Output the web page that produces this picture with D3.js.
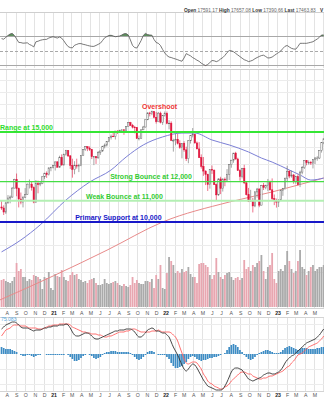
<!DOCTYPE html>
<html><head><meta charset="utf-8">
<script src="https://cdn.jsdelivr.net/npm/d3@7"></script>
<style>
html,body{margin:0;padding:0;background:#fff;}
svg{display:block;font-family:"Liberation Sans",Arial,sans-serif;}
</style></head><body>
<svg id="c" width="324" height="400"></svg>
<script>
// ---------- DATA ----------
const firstWeek = "2020-07-17";
const firstOpen = 10700;
const closes = [10650,10460,10900,11140,11190,11650,12110,11620,11090,10940,
11180,11330,11860,11860,11670,10940,11890,11830,11900,12260,
12460,12380,12760,12800,12890,13110,12800,13370,12930,13550,
13800,13470,12910,12670,12900,12870,12900,13480,13850,14040,
13950,13860,13420,13430,13350,13690,13770,14070,14140,14360,
14640,14720,14700,15060,14960,15120,15150,15100,15370,15650,
15450,15330,15310,14570,14580,15150,15340,15850,16340,16290,
16450,16030,15710,16330,15670,16160,16320,15600,15610,14440,
14440,14520,14250,13990,14250,13840,13300,14420,14760,14840,
14280,13900,13360,12850,12580,12390,11840,12680,12630,11830,
11300,12140,11630,12130,12080,12400,12950,13210,13640,13280,
12610,12270,12740,11930,11310,10970,11030,10750,11450,11600,
10790,11780,11680,11790,12000,11560,11110,11030,10940,11040,
11540,11620,12170,12570,12300,12360,12000,12270,11830,12520,
12770,13180,13060,13080,13040,13250,13340,13340,13810,14300,14550];
const highs = [10990,10780,10960,11290,11270,11700,12150,12440,11680,11420,
11250,11650,11890,12110,11990,11740,12080,12050,12030,12280,
12480,12560,12790,12820,12950,13130,13150,13480,13560,13610,
13840,13810,13520,13300,13150,13300,13000,13500,13860,14060,
14060,14060,13900,13450,13460,13770,13790,14090,14240,14400,
14660,14830,14960,15080,15120,15150,15170,15200,15380,15660,
15700,15560,15420,15330,14760,15170,15420,15860,16400,16430,
16520,16480,16420,16420,16440,16190,16450,16450,15820,15740,
14550,14880,14880,14450,14270,14390,14040,14450,14780,15270,
14880,14370,14330,13560,13400,12620,12430,12690,12900,12670,
11900,12180,12260,12180,12220,12690,12960,13230,13650,13720,
13360,12690,12760,12940,12000,11660,11560,11150,11500,11660,
11640,11820,11920,11830,12140,12050,12170,11320,11110,11080,
11560,11660,12220,12880,12630,12600,12420,12290,12390,12600,
12870,13190,13200,13200,13170,13270,13390,13450,13830,14330,14560];
const lows = [10560,10320,10370,10860,10880,11150,11640,11230,10680,10830,
10680,11150,11300,11630,11520,10880,10900,11380,11750,11860,
12140,12200,12330,12570,12730,12610,12780,12760,12880,12900,
13480,13400,12700,12210,12400,12720,12520,12860,13460,13780,
13760,13770,13280,12920,12990,13300,13530,13720,13930,14050,
14330,14500,14680,14500,14870,14950,14980,14810,15060,15360,
15420,15240,14910,14560,14440,14560,15130,15310,15820,16090,
16180,15950,15580,15680,15590,15490,16080,15530,15180,14430,
13730,14130,14180,13900,13320,13720,13160,13030,14240,14640,
14230,13880,13340,12720,12310,11810,11500,11620,12420,11820,
11040,11250,11340,11470,11750,12000,12080,12770,13060,13250,
12600,12050,12170,11860,11270,10940,10960,10440,10690,11160,
10690,10780,11550,11590,11490,11520,11040,10790,10670,10700,
10990,11250,11570,12010,12180,12210,11880,11880,11780,11700,
12400,12700,12910,12950,12930,12730,12980,13180,13280,13670,14200];
// weekly volume (billions of shares)
const volumes = [2.7,2.8,2.6,2.5,2.4,2.6,3.0,4.4,3.6,3.8,
3.0,3.0,2.6,2.8,2.7,3.2,3.1,3.0,2.8,1.8,
3.0,2.9,3.5,1.9,1.7,3.3,3.1,3.0,3.7,3.0,
2.7,2.6,3.2,3.5,3.2,3.3,2.8,2.7,2.5,2.6,
2.4,2.7,2.8,2.9,2.4,2.2,2.2,2.3,2.8,2.4,
2.3,2.4,2.5,2.6,2.4,2.2,2.1,2.3,2.1,2.0,
2.2,3.0,2.4,2.7,2.4,2.3,2.3,2.6,2.6,2.5,
2.8,1.9,3.2,2.8,4.2,1.9,1.8,3.4,5.0,4.6,
4.2,3.4,3.6,3.4,3.8,3.5,3.6,4.0,3.3,3.0,
3.0,2.4,4.3,4.4,4.4,4.2,4.0,3.2,2.8,3.2,
4.9,3.5,3.0,2.8,3.2,3.4,3.5,3.0,2.7,2.9,
3.0,2.7,2.9,4.7,3.8,4.0,3.6,4.2,4.0,4.4,
4.6,5.2,3.6,2.8,4.0,4.2,5.4,2.8,2.4,3.6,
3.8,3.6,4.2,5.6,4.6,3.8,3.4,3.6,4.6,5.7,
4.0,3.8,3.2,3.6,4.0,4.2,3.6,3.8,4.0,4.0,4.2];
const rsi = [66.4,65.6,68.2,70.7,72.8,73.6,70.7,66.0,61.2,60.9,
60.1,60.3,60.6,58.3,57.0,55.0,62.0,62.8,64.0,64.8,
65.2,65.4,67.2,68.2,69.0,68.0,67.2,68.6,67.0,63.4,
59.0,55.4,54.0,53.7,57.2,58.4,59.5,59.5,58.5,57.9,
57.0,56.3,55.7,55.7,57.0,58.5,60.0,63.6,67.5,69.2,
70.7,71.0,70.0,69.0,69.5,70.0,71.4,73.0,73.3,71.4,
64.5,56.9,54.1,53.4,58.3,63.8,70.7,73.6,71.9,71.4,
71.1,65.2,61.0,59.9,56.9,51.4,46.6,43.1,41.0,40.3,
39.2,38.3,37.3,36.1,35.2,39.7,45.7,44.1,42.6,40.2,
38.6,36.6,35.1,32.5,30.8,29.2,30.7,33.4,36.2,35.8,
34.6,35.9,38.3,40.2,43.2,47.1,49.9,49.6,48.3,46.1,
43.8,41.6,39.4,37.3,36.2,34.7,35.5,36.6,38.7,40.3,
41.7,43.0,43.5,41.7,39.7,39.9,41.0,43.1,45.2,47.2,
49.3,52.8,55.8,56.9,54.8,53.0,52.1,51.8,55.5,59.9,
59.9,59.9,59.9,60.6,61.3,62.1,64.0,65.9,68.2,71.4,71.4];
const macd = [500,540,580,600,620,640,640,620,580,540,
520,520,520,500,480,460,480,480,480,500,
520,520,540,540,560,560,560,580,580,580,
600,580,520,440,380,360,360,380,400,420,
420,400,360,320,300,300,320,340,360,380,
400,420,440,460,460,480,480,480,500,500,
500,480,440,380,340,340,380,420,480,500,
520,500,460,460,440,420,420,380,340,240,
140,60,-20,-120,-220,-300,-340,-300,-240,-200,
-220,-280,-360,-440,-520,-580,-640,-660,-680,-700,
-720,-720,-720,-700,-640,-560,-460,-360,-300,-280,
-280,-300,-320,-380,-440,-500,-520,-540,-520,-500,
-480,-460,-420,-400,-380,-380,-400,-400,-380,-360,
-320,-260,-180,-120,-80,-40,-20,20,60,100,
140,180,220,240,260,280,300,340,380,440,500];
const signal = [360,420,480,500,520,560,580,580,580,560,
560,560,540,520,520,520,520,500,500,500,
520,540,560,560,580,580,580,600,600,600,
600,600,580,540,520,500,480,460,440,440,
420,420,400,400,400,380,380,360,340,340,
360,360,380,400,420,440,440,440,460,460,
480,500,500,480,460,440,440,440,440,440,
460,460,460,480,460,440,440,440,440,420,
380,340,260,140,20,-100,-180,-200,-180,-160,
-160,-180,-240,-300,-400,-460,-540,-580,-600,-640,
-660,-680,-700,-700,-660,-640,-600,-540,-500,-460,
-420,-380,-360,-360,-380,-400,-400,-440,-460,-480,
-500,-500,-480,-480,-460,-440,-440,-420,-400,-380,
-360,-340,-300,-260,-240,-180,-140,-80,-20,0,
20,60,100,140,160,180,200,220,260,300,360];
// moving averages
const maBlueDates = ["2020-07-17","2020-09-18","2020-11-20","2021-02-12","2021-04-30","2021-07-09","2021-08-27","2021-10-22","2021-12-24","2022-02-25","2022-04-08","2022-06-03","2022-07-29","2022-09-30","2022-11-11","2022-12-16","2023-02-10","2023-03-17","2023-04-21","2023-06-02"];
const maBlue = [8740,9220,9870,11040,11970,12640,13400,14150,14670,14930,14930,14470,14150,13710,13340,13100,12640,12360,12080,12190];
const maRedDates = ["2020-07-12","2021-01-01","2021-06-26","2021-12-24","2022-07-29","2022-12-16","2023-03-10","2023-06-02"];
const maRed = [7040,7840,8810,10000,10940,11450,11810,12190];
// annotations
const levels = [15000,12000,11000,10000];
const levelLabels = ["Range at 15,000","Strong Bounce at 12,000","Weak Bounce at 11,000","Primary Support at 10,000"];
const levelLabelDates = ["2020-07-12","2021-07-06","2021-04-18","2021-03-14"];
const overshoot = {label:"Overshoot", date:"2021-12-14", price:16650};
const headerLabels = ["Open","High","Low","Last"];
const headerValues = ["17591.17","17657.08","17390.66","17463.83"];
const macdLabel = "75.083";

// ---------- SETUP ----------
const W = 324;
const svg = d3.select("#c");
const parse = d3.timeParse("%Y-%m-%d");
const t0 = parse(firstWeek);
const weeks = closes.map((_, i) => d3.timeDay.offset(t0, 7 * i));
const opens = closes.map((c, i) => i === 0 ? firstOpen : closes[i - 1]);
const dStart = parse("2020-07-12"), dEnd = parse("2023-06-03");

const x = d3.scaleTime().domain([dStart, dEnd]).range([0, W]);
const yP = d3.scaleLog().domain([10000, 15000]).range([222, 132]);
const yV = d3.scaleLinear().domain([0, 6]).range([307, 247]);
const yR = d3.scaleLinear().domain([30, 70]).range([65, 36]);
const yM = d3.scaleLinear().domain([-720, 640]).range([390, 322]);

const P = {rsi:[12,68], main:[69,308], macd:[317,391]};
const months = d3.timeMonth.range(d3.timeMonth.ceil(dStart), dEnd);

const defs = svg.append("defs");
function clip(id, y0, y1){
  defs.append("clipPath").attr("id", id).append("rect")
    .attr("x", 0).attr("y", y0).attr("width", W).attr("height", y1 - y0);
}
clip("cRsi", P.rsi[0], P.rsi[1]);
clip("cRsiUp", P.rsi[0], yR(70));
clip("cRsiDn", yR(30), P.rsi[1]);
clip("cMain", P.main[0], P.main[1]);
clip("cMacd", P.macd[0], P.macd[1]);

svg.append("rect").attr("width", W).attr("height", 400).attr("fill", "#fff");

// vertical grid
Object.values(P).forEach(([a, b]) => {
  svg.append("g").selectAll("line").data(months).join("line")
    .attr("x1", d => Math.round(x(d)) + 0.5).attr("x2", d => Math.round(x(d)) + 0.5)
    .attr("y1", a).attr("y2", b)
    .attr("stroke", "#e3e3e3").attr("stroke-width", 1);
});

// ---------- RSI PANEL ----------
const gR = svg.append("g");
gR.append("line").attr("x1", 0).attr("x2", W).attr("y1", P.rsi[0] + 0.5).attr("y2", P.rsi[0] + 0.5).attr("stroke", "#cfcfcf");
[[70, null], [50, "3,2"], [30, null]].forEach(([v, dash]) => {
  gR.append("line").attr("x1", 0).attr("x2", W)
    .attr("y1", Math.round(yR(v)) + 0.5).attr("y2", Math.round(yR(v)) + 0.5)
    .attr("stroke", "#a8a8a8").attr("stroke-width", 1)
    .attr("stroke-dasharray", dash);
});
const rsiArea70 = d3.area().x((d, i) => x(weeks[i])).y0(yR(70)).y1(d => yR(d));
const rsiArea30 = d3.area().x((d, i) => x(weeks[i])).y0(yR(30)).y1(d => yR(d));
gR.append("path").datum(rsi).attr("d", rsiArea70).attr("fill", "#5e8f5e").attr("clip-path", "url(#cRsiUp)");
gR.append("path").datum(rsi).attr("d", rsiArea30).attr("fill", "#d06060").attr("clip-path", "url(#cRsiDn)");
gR.append("path").datum(rsi)
  .attr("d", d3.line().x((d, i) => x(weeks[i])).y(d => yR(d)))
  .attr("fill", "none").attr("stroke", "#555").attr("stroke-width", 0.8)
  .attr("clip-path", "url(#cRsi)");

// header
const hdr = svg.append("text").attr("x", 184).attr("y", 11.5).attr("font-size", 4.8).attr("fill", "#333");
headerLabels.forEach((l, i) => {
  hdr.append("tspan").attr("font-weight", "bold").text(l + " ");
  hdr.append("tspan").attr("fill", "#666").text(headerValues[i] + "  ");
});
svg.append("text").attr("x", 320).attr("y", 11.5).attr("font-size", 4.8).attr("font-weight", "bold").attr("fill", "#333").text("V");

// ---------- MAIN PANEL ----------
const gM = svg.append("g").attr("clip-path", "url(#cMain)");
gM.append("line").attr("x1", 0).attr("x2", W).attr("y1", P.main[0] + 0.5).attr("y2", P.main[0] + 0.5).attr("stroke", "#cfcfcf");
const priceGrid = [8000, 9000, 13000, 14000, 16000, 17000, 18000, 19000];
gM.selectAll("line.pg").data(priceGrid).join("line").attr("class", "pg")
  .attr("x1", 0).attr("x2", W)
  .attr("y1", d => Math.round(yP(d)) + 0.5).attr("y2", d => Math.round(yP(d)) + 0.5)
  .attr("stroke", "#ececec");

// volume
gM.selectAll("rect.vol").data(volumes).join("rect").attr("class", "vol")
  .attr("x", (d, i) => x(weeks[i]) - 0.9).attr("width", 1.8)
  .attr("y", d => yV(d)).attr("height", d => yV(0) - yV(d))
  .attr("fill", (d, i) => closes[i] < opens[i] ? "#e8a6b0" : "#aaaaaa");

// moving averages
gM.append("path").datum(maRed.map((v, i) => [parse(maRedDates[i]), v]))
  .attr("d", d3.line().curve(d3.curveMonotoneX).x(d => x(d[0])).y(d => yP(d[1])))
  .attr("fill", "none").attr("stroke", "#e88a8a").attr("stroke-width", 1);
gM.append("path").datum(maBlue.map((v, i) => [parse(maBlueDates[i]), v]))
  .attr("d", d3.line().curve(d3.curveMonotoneX).x(d => x(d[0])).y(d => yP(d[1])))
  .attr("fill", "none").attr("stroke", "#7c80d6").attr("stroke-width", 1);

// candles
const cg = gM.append("g");
closes.forEach((c, i) => {
  const o = opens[i], up = c >= o;
  const cx = x(weeks[i]);
  const col = up ? "#6a6a6a" : "#e0143c";
  cg.append("line").attr("x1", cx).attr("x2", cx)
    .attr("y1", yP(highs[i])).attr("y2", yP(lows[i]))
    .attr("stroke", col).attr("stroke-width", 0.6);
  const top = yP(Math.max(o, c)), bot = yP(Math.min(o, c));
  cg.append("rect").attr("x", cx - 0.7).attr("width", 1.4)
    .attr("y", top).attr("height", Math.max(0.6, bot - top))
    .attr("fill", up ? "#ffffff" : col).attr("stroke", col).attr("stroke-width", 0.5);
});

// annotation lines
const lvlColors = ["#35e635", "#44dd44", "#b3efb3", "#1818c8"];
const lvlWidths = [2, 1.2, 2, 2];
const lvlText = ["#2fdc2f", "#33cc33", "#33cc33", "#1818c8"];
levels.forEach((v, i) => {
  gM.append("line").attr("x1", 0).attr("x2", W).attr("y1", yP(v)).attr("y2", yP(v))
    .attr("stroke", lvlColors[i]).attr("stroke-width", lvlWidths[i]);
  gM.append("text").attr("x", x(parse(levelLabelDates[i]))).attr("y", yP(v) - 2.3)
    .attr("font-size", 7).attr("font-weight", "bold").attr("fill", lvlText[i])
    .text(levelLabels[i]);
});
gM.append("text").attr("x", x(parse(overshoot.date))).attr("y", yP(overshoot.price))
  .attr("text-anchor", "middle").attr("font-size", 7).attr("font-weight", "bold")
  .attr("fill", "#ee3535").text(overshoot.label);

// ---------- AXIS LABELS ----------
const mLabel = d => d.getMonth() === 0 ? d3.timeFormat("%y")(d) : "JFMAMJJASOND"[d.getMonth()];
function axisBand(yTop, yText) {
  svg.append("line").attr("x1", 0).attr("x2", W).attr("y1", yTop + 0.5).attr("y2", yTop + 0.5).attr("stroke", "#d4d4d4");
  svg.append("g").selectAll("text").data(months.filter(d => x(d) < 319)).join("text")
    .attr("x", d => x(d) + 1).attr("y", yText)
    .attr("text-anchor", "middle").attr("font-size", 5.2)
    .attr("font-weight", d => d.getMonth() === 0 ? "bold" : "normal")
    .attr("fill", d => d.getMonth() === 0 ? "#222" : "#555")
    .text(mLabel);
}
axisBand(P.main[1], 314.8);
svg.append("line").attr("x1", 0).attr("x2", W).attr("y1", P.macd[0] + 0.5).attr("y2", P.macd[0] + 0.5).attr("stroke", "#d4d4d4");
axisBand(P.macd[1], 397);

// ---------- MACD PANEL ----------
const gD = svg.append("g").attr("clip-path", "url(#cMacd)");
[-600, -300, 300, 600].forEach(v => {
  gD.append("line").attr("x1", 0).attr("x2", W)
    .attr("y1", Math.round(yM(v)) + 0.5).attr("y2", Math.round(yM(v)) + 0.5).attr("stroke", "#ececec");
});
const hist = macd.map((m, i) => m - signal[i]);
gD.selectAll("rect.h").data(hist).join("rect").attr("class", "h")
  .attr("x", (d, i) => x(weeks[i]) - 0.85).attr("width", 1.7)
  .attr("y", d => Math.min(yM(0), yM(d))).attr("height", d => Math.abs(yM(d) - yM(0)))
  .attr("fill", "#3d8cc4");
const lineM = d3.line().curve(d3.curveMonotoneX).x((d, i) => x(weeks[i])).y(d => yM(d));
gD.append("path").datum(signal).attr("d", lineM).attr("fill", "none").attr("stroke", "#ff6060").attr("stroke-width", 0.9);
gD.append("path").datum(macd).attr("d", lineM).attr("fill", "none").attr("stroke", "#333").attr("stroke-width", 0.9);
svg.append("text").attr("x", 1).attr("y", 321).attr("font-size", 5).attr("fill", "#56a8e0").text(macdLabel);
</script>
</body></html>
